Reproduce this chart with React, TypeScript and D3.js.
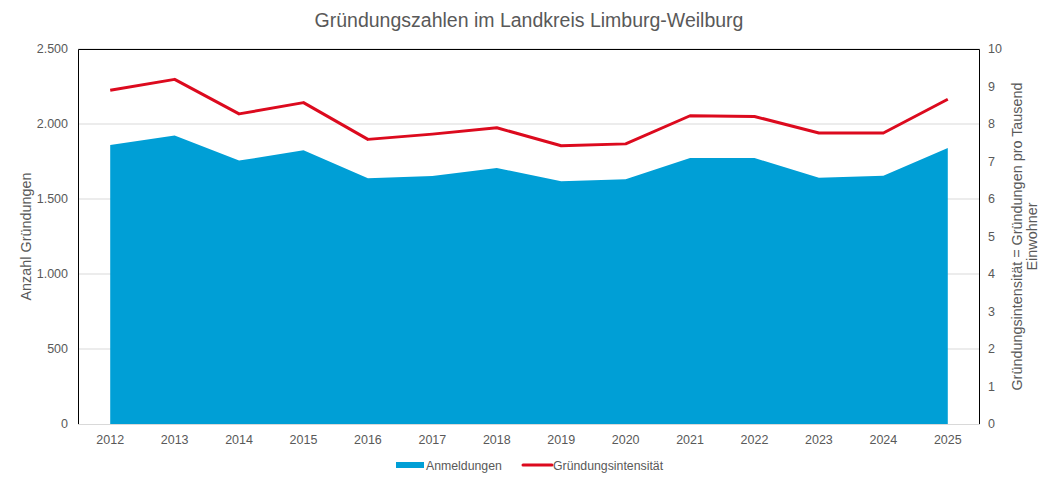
import React, { useEffect, useRef } from "react";
import * as d3 from "d3";

const years = ["2012","2013","2014","2015","2016","2017","2018","2019","2020","2021","2022","2023","2024","2025"];
const anmeldungen = [1860, 1924, 1756, 1825, 1638, 1653, 1707, 1618, 1631, 1773, 1773, 1642, 1655, 1840];
const intensitaet = [8.90, 9.19, 8.27, 8.57, 7.59, 7.73, 7.90, 7.42, 7.47, 8.22, 8.20, 7.76, 7.76, 8.66];
const leftTicks = [0, 500, 1000, 1500, 2000, 2500];
const rightTicks = [0, 1, 2, 3, 4, 5, 6, 7, 8, 9, 10];

const W = 1056, H = 485;
const M = { left: 78, right: 980, top: 49, bottom: 424 };
const FONT = "'Liberation Sans', Arial, sans-serif";
const GRAY = "#595959";
const BLUE = "#009FD6";
const RED = "#DC0A1E";

export default function App() {
  const ref = useRef<SVGSVGElement>(null);
  useEffect(() => {
    const svg = d3.select(ref.current);
    svg.selectAll("*").remove();

    const x = d3.scalePoint<string>().domain(years).range([M.left, M.right]).padding(0.5);
    const yL = d3.scaleLinear().domain([0, 2500]).range([M.bottom, M.top]);
    const yR = d3.scaleLinear().domain([0, 10]).range([M.bottom, M.top]);

    // gridlines
    svg.append("g").selectAll("line").data(leftTicks.slice(1)).join("line")
      .attr("x1", M.left).attr("x2", M.right)
      .attr("y1", d => yL(d)).attr("y2", d => yL(d))
      .attr("stroke", "#d9d9d9").attr("stroke-width", 1);

    // area
    const area = d3.area<number>()
      .x((_, i) => x(years[i])!)
      .y0(yL(0))
      .y1(d => yL(d));
    svg.append("path").datum(anmeldungen).attr("d", area).attr("fill", BLUE);

    // line
    const line = d3.line<number>()
      .x((_, i) => x(years[i])!)
      .y(d => yR(d));
    svg.append("path").datum(intensitaet).attr("d", line)
      .attr("fill", "none").attr("stroke", RED).attr("stroke-width", 3)
      .attr("stroke-linejoin", "round");

    // frame
    svg.append("path")
      .attr("d", `M${M.left + 0.5},${M.bottom} V${M.top + 0.5} H${M.right - 0.5} V${M.bottom}`)
      .attr("fill", "none").attr("stroke", "#000").attr("stroke-width", 1);
    svg.append("line")
      .attr("x1", M.left).attr("x2", M.right)
      .attr("y1", M.bottom + 0.5).attr("y2", M.bottom + 0.5)
      .attr("stroke", "#d9d9d9");

    // left ticks
    const fmt = (v: number) => d3.format(",")(v).replace(/,/g, ".");
    svg.append("g").selectAll("text").data(leftTicks).join("text")
      .attr("x", 68).attr("y", d => yL(d)).attr("dy", "0.35em")
      .attr("text-anchor", "end").attr("font-family", FONT).attr("font-size", 12.5)
      .attr("fill", GRAY).text(d => fmt(d));

    // right ticks
    svg.append("g").selectAll("text").data(rightTicks).join("text")
      .attr("x", 988).attr("y", d => yR(d)).attr("dy", "0.35em")
      .attr("text-anchor", "start").attr("font-family", FONT).attr("font-size", 12.5)
      .attr("fill", GRAY).text(d => String(d));

    // x ticks
    svg.append("g").selectAll("text").data(years).join("text")
      .attr("x", d => x(d)!).attr("y", 444)
      .attr("text-anchor", "middle").attr("font-family", FONT).attr("font-size", 12.5)
      .attr("fill", GRAY).text(d => d);

    // title
    svg.append("text").attr("x", 529).attr("y", 27).attr("text-anchor", "middle")
      .attr("font-family", FONT).attr("font-size", 19.5).attr("fill", GRAY)
      .text("Gründungszahlen im Landkreis Limburg-Weilburg");

    // left axis title
    svg.append("text").attr("transform", `translate(31,${(M.top + M.bottom) / 2}) rotate(-90)`)
      .attr("text-anchor", "middle").attr("font-family", FONT).attr("font-size", 14.4)
      .attr("fill", GRAY).text("Anzahl Gründungen");

    // right axis title
    const rt = svg.append("text").attr("transform", `translate(1022,${(M.top + M.bottom) / 2}) rotate(-90)`)
      .attr("text-anchor", "middle").attr("font-family", FONT).attr("font-size", 14.4)
      .attr("fill", GRAY);
    rt.append("tspan").attr("x", 0).attr("dy", 0).text("Gründungsintensität = Gründungen pro Tausend");
    rt.append("tspan").attr("x", 0).attr("dy", 15).text("Einwohner");

    // legend
    const lg = svg.append("g");
    lg.append("rect").attr("x", 396).attr("y", 462).attr("width", 28).attr("height", 6).attr("fill", BLUE);
    lg.append("text").attr("x", 426).attr("y", 466).attr("dy", "0.35em")
      .attr("font-family", FONT).attr("font-size", 12.3).attr("fill", GRAY).text("Anmeldungen");
    lg.append("line").attr("x1", 523).attr("x2", 552).attr("y1", 465).attr("y2", 465)
      .attr("stroke", RED).attr("stroke-width", 3).attr("stroke-linecap", "round");
    lg.append("text").attr("x", 553).attr("y", 466).attr("dy", "0.35em")
      .attr("font-family", FONT).attr("font-size", 12.3).attr("fill", GRAY).text("Gründungsintensität");
  }, []);

  return (
    <svg ref={ref} width={W} height={H}
      style={{ position: "absolute", left: 0, top: 0, background: "#fff", display: "block" }} />
  );
}
